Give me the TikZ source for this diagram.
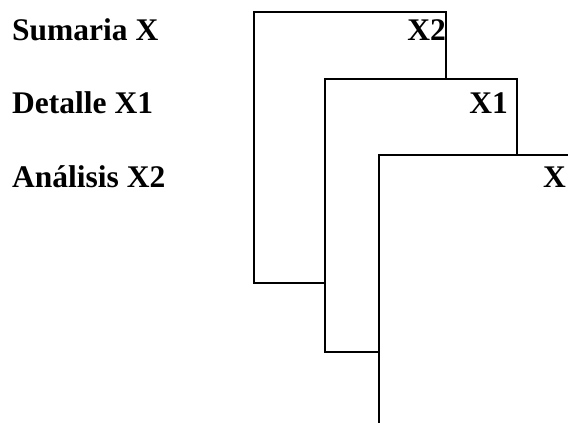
\documentclass[tikz,border=0pt]{standalone}
\usepackage{fontspec}
\setmainfont{Liberation Serif}
\begin{document}
\begin{tikzpicture}[x=1pt,y=-1pt,
  lbl/.style={inner sep=0pt,font=\fontsize{31.5}{36}\selectfont\bfseries},
  frame/.style={line width=2pt,line join=miter,line cap=rect}]
\useasboundingbox (0,0) rectangle (568,423);
% left labels
\node[lbl,anchor=base west] (sum) at (12,40) {Sumaria X};
\node[lbl,anchor=base west] (det) at (12,113) {Detalle X1};
\node[lbl,anchor=base west] (ana) at (12,187) {Análisis X2};
% frames
\coordinate (a1) at (446,79);
\coordinate (a2) at (446,12);
\coordinate (a3) at (254,12);
\coordinate (a4) at (254,283);
\coordinate (a5) at (325,283);
\coordinate (b1) at (517,155);
\coordinate (b2) at (517,79);
\coordinate (b3) at (325,79);
\coordinate (b4) at (325,352);
\coordinate (b5) at (379,352);
\coordinate (c1) at (569,155);
\coordinate (c2) at (379,155);
\coordinate (c3) at (379,424);
\draw[frame] (a1) -- (a2) -- (a3) -- (a4) -- (a5);
\draw[frame] (b1) -- (b2) -- (b3) -- (b4) -- (b5);
\draw[frame] (c1) -- (c2) -- (c3);
% frame labels
\node[lbl,anchor=base east] (x2) at (446,40) {X2};
\node[lbl,anchor=base east] (x1) at (508,113) {X1};
\node[lbl,anchor=base west] (x0) at (543,187) {X};
\end{tikzpicture}
\end{document}
